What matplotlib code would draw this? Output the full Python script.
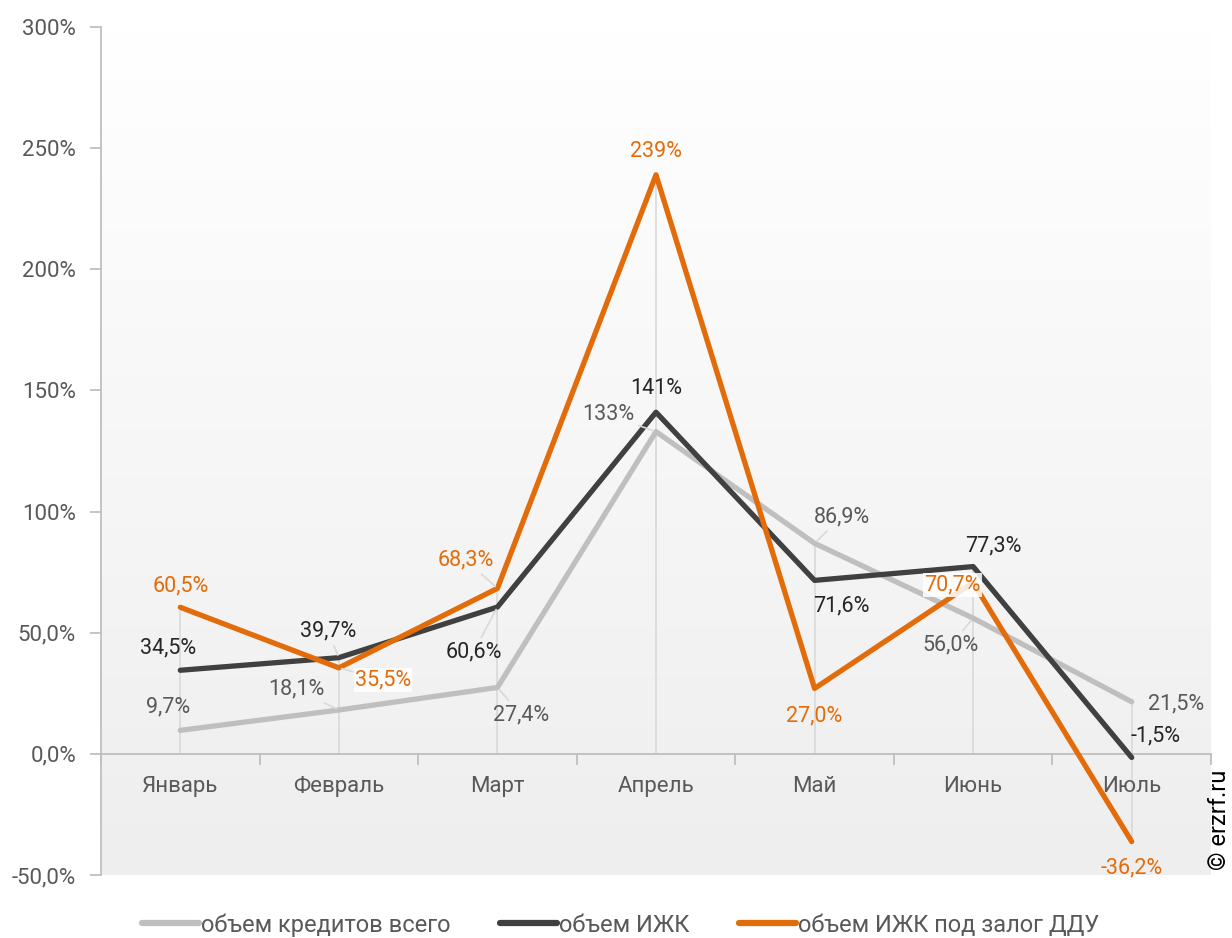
import numpy as np
import matplotlib
matplotlib.use("Agg")
import matplotlib.pyplot as plt
from matplotlib.colors import LinearSegmentedColormap

plt.rcParams['font.family'] = ['Roboto', 'DejaVu Sans']

months = ["Январь", "Февраль", "Март", "Апрель", "Май", "Июнь", "Июль"]
total = [9.7, 18.1, 27.4, 133, 86.9, 56.0, 21.5]
izhk = [34.5, 39.7, 60.6, 141, 71.6, 77.3, -1.5]
ddu = [60.5, 35.5, 68.3, 239, 27.0, 70.7, -36.2]

total_lbl = ["9,7%", "18,1%", "27,4%", "133%", "86,9%", "56,0%", "21,5%"]
izhk_lbl = ["34,5%", "39,7%", "60,6%", "141%", "71,6%", "77,3%", "-1,5%"]
ddu_lbl = ["60,5%", "35,5%", "68,3%", "239%", "27,0%", "70,7%", "-36,2%"]

series_names = ["объем кредитов всего", "объем ИЖК", "объем ИЖК под залог ДДУ"]

yticks = [-50, 0, 50, 100, 150, 200, 250, 300]
ytick_lbl = ["-50,0%", "0,0%", "50,0%", "100%", "150%", "200%", "250%", "300%"]

# label positions (data coords) and leader-line flags
total_pos = [(-0.08, 19.4), (0.73, 26.8), (2.15, 16.1), (2.70, 139.9), (4.17, 97.8), (4.86, 45.0), (6.28, 20.6)]
izhk_pos = [(-0.08, 43.7), (0.93, 50.7), (1.85, 42.1), (3.0, 151.0), (4.17, 61.1), (5.13, 85.8), (6.15, 7.4)]
ddu_pos = [(0.0, 69.3), (1.28, 30.5), (1.80, 80.0), (3.0, 248.8), (4.0, 15.7), (4.87, 69.7), (6.0, -47.0)]
total_lead = [False, True, True, True, True, True, False]
izhk_lead = [False, True, True, False, False, False, False]
ddu_lead = [False, True, True, False, False, False, False]
ddu_bg = [False, True, False, False, False, True, False]

C_TOTAL = "#bfbfbf"
C_IZHK = "#404040"
C_DDU = "#e36c0a"

fig = plt.figure(figsize=(12.32, 9.38), dpi=100)
ax = fig.add_axes([101/1232, 1-875/938, (1211-101)/1232, (875-27)/938])

x = np.arange(len(months))
ax.set_xlim(-0.5, 6.5)
ax.set_ylim(-50, 300)

# gradient background
cmap = LinearSegmentedColormap.from_list("bg", ["#ffffff", "#eeeeee"])
ax.imshow(np.linspace(0, 1, 256).reshape(-1, 1), extent=[-0.5, 6.5, -50, 300],
          aspect='auto', cmap=cmap, origin='upper', zorder=0)

# drop lines
for i in x:
    vals = [total[i], izhk[i], ddu[i]]
    ax.vlines(i, min(0, min(vals)), max(0, max(vals)), color="#d9d9d9", lw=1.2, zorder=1)

ax.plot(x, total, color=C_TOTAL, lw=3.8, solid_capstyle='round', solid_joinstyle='round', zorder=3, label=series_names[0])
ax.plot(x, izhk, color=C_IZHK, lw=3.8, solid_capstyle='round', solid_joinstyle='round', zorder=4, label=series_names[1])
ax.plot(x, ddu, color=C_DDU, lw=3.8, solid_capstyle='round', solid_joinstyle='round', zorder=5, label=series_names[2])

LBL_FS = 15.5

def add_labels(vals, lbls, pos, leads, color, bgs=None):
    for i, (v, t, p, ld) in enumerate(zip(vals, lbls, pos, leads)):
        bbox = None
        if bgs is not None and bgs[i]:
            bbox = dict(boxstyle="square,pad=0.05", fc="white", ec="none", alpha=0.85)
        ap = None
        if ld:
            ap = dict(arrowstyle='-', color="#d9d9d9", lw=1.2, shrinkA=1, shrinkB=2)
        ax.annotate(t, xy=(x[i], v), xytext=p, textcoords='data',
                    ha='center', va='center', fontsize=LBL_FS, color=color,
                    bbox=bbox, arrowprops=ap, zorder=6)

add_labels(total, total_lbl, total_pos, total_lead, "#595959")
add_labels(izhk, izhk_lbl, izhk_pos, izhk_lead, "#262626")
add_labels(ddu, ddu_lbl, ddu_pos, ddu_lead, C_DDU, ddu_bg)

# axes styling
for s in ['top', 'right']:
    ax.spines[s].set_visible(False)
ax.spines['left'].set_color("#bfbfbf")
ax.spines['left'].set_linewidth(1.3)
ax.spines['bottom'].set_position(('data', 0))
ax.spines['bottom'].set_color("#bfbfbf")
ax.spines['bottom'].set_linewidth(1.3)

ax.set_yticks(yticks)
ax.set_yticklabels(ytick_lbl)
ax.tick_params(axis='y', length=8, width=1.3, color="#bfbfbf", labelsize=16,
               labelcolor="#595959", pad=10)

ax.set_xticks(x)
ax.set_xticklabels(months)
ax.set_xticks(np.arange(-0.5, 7, 1.0), minor=True)
ax.tick_params(axis='x', which='major', length=0, labelsize=16, labelcolor="#595959", pad=16)
ax.tick_params(axis='x', which='minor', length=8, width=1.3, color="#bfbfbf")

leg = fig.legend(loc='center', bbox_to_anchor=(621/1232, 1-925/938), ncol=3, frameon=False,
                 fontsize=17, handlelength=2.4, handletextpad=0.1, columnspacing=2.1,
                 labelcolor="#595959")
for h in leg.legend_handles:
    h.set_linewidth(4.5)
    h.set_solid_capstyle('round')

fig.text(1220/1232, 1-820/938, "© erzrf.ru", rotation=90, ha='center', va='center',
         fontsize=17, color='black')

fig.savefig("out.png", dpi=100)
